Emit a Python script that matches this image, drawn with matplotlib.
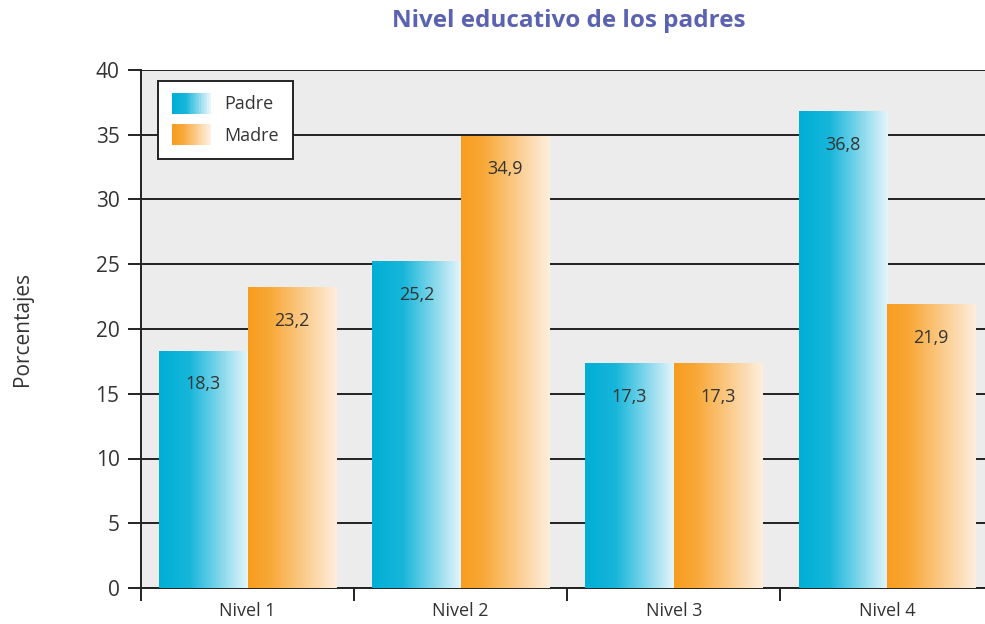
import numpy as np
import matplotlib
matplotlib.use("Agg")
import matplotlib.pyplot as plt
from matplotlib.colors import LinearSegmentedColormap
from matplotlib.patches import Rectangle
from matplotlib.legend_handler import HandlerBase

categories = ["Nivel 1", "Nivel 2", "Nivel 3", "Nivel 4"]
padre = [18.3, 25.2, 17.3, 36.8]
madre = [23.2, 34.9, 17.3, 21.9]
series_names = ["Padre", "Madre"]

plt.rcParams['font.family'] = ['Open Sans', 'DejaVu Sans']

blue_cmap = LinearSegmentedColormap.from_list(
    "blue", [(0.0, "#00aed6"), (0.35, "#18b6da"), (1.0, "#e4f5fb")])
orange_cmap = LinearSegmentedColormap.from_list(
    "orange", [(0.0, "#f79d1e"), (0.25, "#f8a837"), (1.0, "#feeede")])

grad = np.linspace(0, 1, 256).reshape(1, -1)

fig = plt.figure(figsize=(9.85, 6.24), dpi=100)
ax = fig.add_axes([141 / 985, 36 / 624, 1 - 141 / 985, (588 - 70) / 624])
ax.set_facecolor("#ececec")

bar_w = 0.415
x = np.arange(len(categories))


def gradient_bar(ax, x0, width, height, cmap):
    ax.imshow(grad, cmap=cmap, aspect="auto", interpolation="bilinear",
              extent=[x0, x0 + width, 0, height], zorder=3)


for i in x:
    gradient_bar(ax, i - bar_w, bar_w, padre[i], blue_cmap)
    gradient_bar(ax, i, bar_w, madre[i], orange_cmap)
    for xc, v in [(i - bar_w / 2, padre[i]), (i + bar_w / 2, madre[i])]:
        ax.annotate(f"{v:.1f}".replace(".", ","), (xc, v), xytext=(0, -24),
                    textcoords="offset points", ha="center", va="center",
                    fontsize=13, color="#333333", zorder=5)

ax.set_xlim(-0.5, 3.46)
ax.set_ylim(0, 40)
ax.set_yticks(range(0, 41, 5))
ax.tick_params(axis="y", labelsize=15, length=9.5, width=1.4, color="#222222",
               labelcolor="#333333", pad=6)
ax.yaxis.grid(True, color="#222222", linewidth=1.4, zorder=1)
ax.set_axisbelow(True)

ax.set_xticks([-0.5, 0.5, 1.5, 2.5])
ax.set_xticklabels([])
ax.set_xticks(x, minor=True)
ax.set_xticklabels(categories, minor=True)
ax.tick_params(axis="x", which="major", length=9, width=1.4, color="#222222")
ax.tick_params(axis="x", which="minor", length=0, labelsize=13, pad=10,
               labelcolor="#333333")

for s in ["top", "right"]:
    ax.spines[s].set_visible(False)
for s in ["left", "bottom"]:
    ax.spines[s].set_color("#222222")
    ax.spines[s].set_linewidth(1.4)

ax.set_ylabel("Porcentajes", fontsize=15, color="#333333", labelpad=45)
fig.text(569 / 985, 1 - 21 / 624, "Nivel educativo de los padres",
         ha="center", va="center", fontsize=17.5, fontweight="bold",
         color="#5b63b1")


class GradientHandler(HandlerBase):
    def __init__(self, cmap):
        super().__init__()
        self.cmap = cmap

    def create_artists(self, legend, orig_handle, xdescent, ydescent,
                       width, height, fontsize, trans):
        n = 24
        artists = []
        for k in range(n):
            r = Rectangle((-xdescent + width * k / n, -ydescent - 3),
                          width / n + 0.3, height + 6,
                          facecolor=self.cmap(k / (n - 1)), edgecolor="none",
                          transform=trans)
            artists.append(r)
        return artists


h1 = Rectangle((0, 0), 1, 1)
h2 = Rectangle((0, 0), 1, 1)
leg = ax.legend([h1, h2], series_names, loc="upper left",
                bbox_to_anchor=(17 / 844, 1 - 11 / 518), borderaxespad=0,
                handler_map={h1: GradientHandler(blue_cmap),
                             h2: GradientHandler(orange_cmap)},
                fontsize=13, frameon=True, fancybox=False,
                handlelength=2.1, handletextpad=0.75, labelspacing=0.75,
                borderpad=0.8)
leg.get_frame().set_edgecolor("#222222")
leg.get_frame().set_linewidth(1.4)
leg.get_frame().set_alpha(1)
leg.set_zorder(6)
for t in leg.get_texts():
    t.set_color("#333333")

fig.savefig("out.png", dpi=100)
